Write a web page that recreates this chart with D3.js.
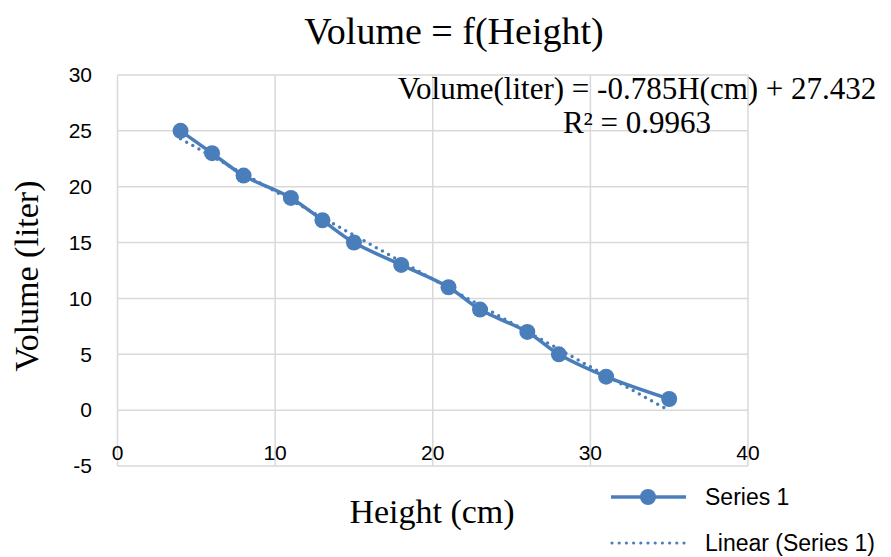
<!DOCTYPE html>
<html>
<head>
<meta charset="utf-8">
<script src="https://cdn.jsdelivr.net/npm/d3@7"></script>
<style>
  body { margin: 0; background: #fff; }
  svg { display: block; }
</style>
</head>
<body>
<div id="chart"></div>
<script>
const heights = [4, 6, 8, 11, 13, 15, 18, 21, 23, 26, 28, 31, 35];
const volumes = [25, 23, 21, 19, 17, 15, 13, 11, 9, 7, 5, 3, 1];
const xTicks = [0, 10, 20, 30, 40];
const yTicks = [-5, 0, 5, 10, 15, 20, 25, 30];
const trendSlope = -0.785;
const trendIntercept = 27.432;
const rSquared = 0.9963;

const width = 891;
const height = 557;
const margin = { top: 75, right: 143, bottom: 91, left: 117.5 };
const color = '#4a7ebb';
const serif = '"Liberation Serif", "Times New Roman", serif';
const sans = '"Liberation Sans", Arial, sans-serif';

const svg = d3.select('#chart').append('svg')
  .attr('width', width)
  .attr('height', height);

const x = d3.scaleLinear().domain([0, 40]).range([margin.left, width - margin.right]);
const y = d3.scaleLinear().domain([-5, 30]).range([height - margin.bottom, margin.top]);

// grid
svg.append('g')
  .selectAll('line')
  .data(yTicks)
  .join('line')
  .attr('x1', x(0)).attr('x2', x(40))
  .attr('y1', d => y(d)).attr('y2', d => y(d))
  .attr('stroke', '#d9d9d9').attr('stroke-width', 1.5);

svg.append('g')
  .selectAll('line')
  .data(xTicks)
  .join('line')
  .attr('x1', d => x(d)).attr('x2', d => x(d))
  .attr('y1', y(-5)).attr('y2', y(30))
  .attr('stroke', '#d9d9d9').attr('stroke-width', 1.5);

// tick labels
svg.append('g')
  .selectAll('text')
  .data(yTicks)
  .join('text')
  .attr('x', 92)
  .attr('y', d => y(d))
  .attr('dy', '0.35em')
  .attr('text-anchor', 'end')
  .attr('font-family', sans)
  .attr('font-size', 21)
  .text(d => d);

svg.append('g')
  .selectAll('text')
  .data(xTicks)
  .join('text')
  .attr('x', d => x(d))
  .attr('y', 460)
  .attr('text-anchor', 'middle')
  .attr('font-family', sans)
  .attr('font-size', 21)
  .text(d => d);

// trendline
const trendX = d3.extent(heights);
svg.append('line')
  .attr('x1', x(trendX[0])).attr('y1', y(trendSlope * trendX[0] + trendIntercept))
  .attr('x2', x(trendX[1])).attr('y2', y(trendSlope * trendX[1] + trendIntercept))
  .attr('stroke', color)
  .attr('stroke-width', 3.5)
  .attr('stroke-linecap', 'round')
  .attr('stroke-dasharray', '0 7');

// series
const points = heights.map((h, i) => [h, volumes[i]]);
const line = d3.line()
  .x(d => x(d[0]))
  .y(d => y(d[1]))
  .curve(d3.curveCatmullRom.alpha(0.5));

svg.append('path')
  .datum(points)
  .attr('d', line)
  .attr('fill', 'none')
  .attr('stroke', color)
  .attr('stroke-width', 3.5);

svg.append('g')
  .selectAll('circle')
  .data(points)
  .join('circle')
  .attr('cx', d => x(d[0]))
  .attr('cy', d => y(d[1]))
  .attr('r', 8)
  .attr('fill', color);

// titles
svg.append('text')
  .attr('x', 454).attr('y', 44)
  .attr('text-anchor', 'middle')
  .attr('font-family', serif)
  .attr('font-size', 38)
  .text('Volume = f(Height)');

svg.append('text')
  .attr('x', 432).attr('y', 523)
  .attr('text-anchor', 'middle')
  .attr('font-family', serif)
  .attr('font-size', 34)
  .text('Height (cm)');

svg.append('text')
  .attr('transform', 'translate(38,276) rotate(-90)')
  .attr('text-anchor', 'middle')
  .attr('font-family', serif)
  .attr('font-size', 34)
  .text('Volume (liter)');

// equation label
const eq = svg.append('text')
  .attr('text-anchor', 'middle')
  .attr('font-family', serif)
  .attr('font-size', 31);
eq.append('tspan').attr('x', 637).attr('y', 99)
  .text(`Volume(liter) = ${trendSlope}H(cm) + ${trendIntercept}`);
eq.append('tspan').attr('x', 637).attr('y', 133)
  .text(`R² = ${rSquared}`);

// legend
const legend = svg.append('g');
legend.append('line')
  .attr('x1', 611).attr('x2', 686).attr('y1', 497).attr('y2', 497)
  .attr('stroke', color).attr('stroke-width', 3.5);
legend.append('circle')
  .attr('cx', 648).attr('cy', 497).attr('r', 8).attr('fill', color);
legend.append('text')
  .attr('x', 705).attr('y', 497).attr('dy', '0.35em')
  .attr('font-family', sans).attr('font-size', 23)
  .text('Series 1');
legend.append('line')
  .attr('x1', 612).attr('x2', 684).attr('y1', 543).attr('y2', 543)
  .attr('stroke', color).attr('stroke-width', 3.2)
  .attr('stroke-linecap', 'round')
  .attr('stroke-dasharray', '0 7.2');
legend.append('text')
  .attr('x', 705).attr('y', 543).attr('dy', '0.35em')
  .attr('font-family', sans).attr('font-size', 23)
  .text('Linear (Series 1)');
</script>
</body>
</html>
